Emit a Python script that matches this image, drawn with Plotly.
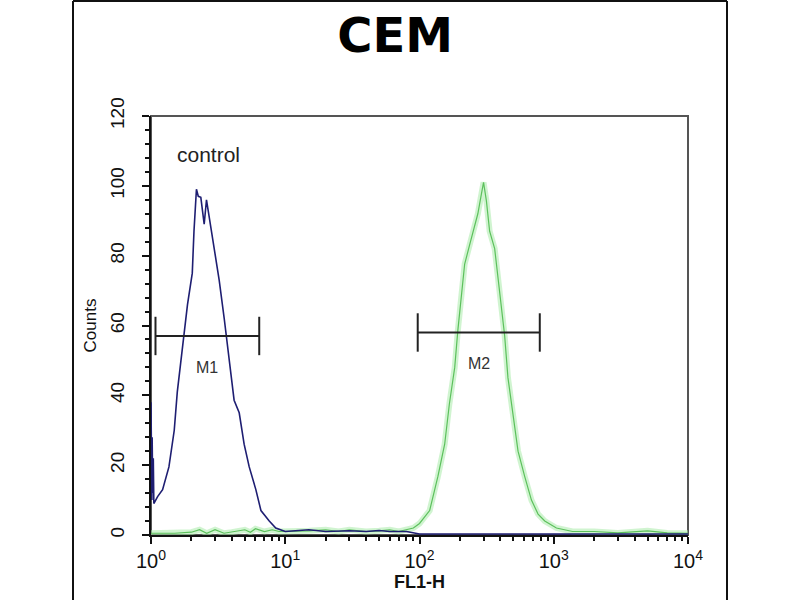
import math
import plotly.graph_objects as go

# control histogram (blue), FL1-H channel vs counts
control_x = [1.0, 1.005, 1.01, 1.015, 1.02, 1.03, 1.04, 1.05, 1.12, 1.22, 1.36, 1.49, 1.57, 1.67, 1.76, 1.87,
             2.03, 2.09, 2.18, 2.25, 2.35, 2.49, 2.59, 2.74, 2.95, 3.22, 3.51, 3.82, 4.16,
             4.54, 4.94, 5.39, 6.04, 6.59, 7.6, 8.5, 10, 15, 20, 30, 40, 50, 60, 80, 100,
             300, 1000, 10000]
control_y = [38, 15, 33, 10, 28, 12, 22, 9, 11, 13, 19.5, 30, 41, 50, 58.6, 66,
             75, 87, 99, 97, 96.7, 89, 96, 90, 81, 73, 62, 51, 38.6,
             35, 26, 19.5, 13, 7, 4, 2, 1, 1.5, 1, 1.2, 1, 1.3, 1, 1, 0.3,
             0.3, 0.3, 0.3]

# stained sample histogram (green)
sample_x = [1, 1.5, 2, 2.3, 2.6, 3, 3.5, 4, 5, 5.5, 6, 7, 8, 9, 10, 15, 20, 25, 30, 40,
            50, 60, 70, 80, 90, 100, 119, 137, 154, 167, 183, 193, 205, 217, 236, 257,
            272, 289, 300, 315, 333, 363, 384, 414, 431, 456, 497, 542, 608, 682, 764,
            857, 1047, 1380, 2000, 3000, 5000, 7000, 10000]
sample_y = [0.5, 0.5, 0.8, 1.5, 0.5, 1.5, 0.5, 0.8, 1.5, 0.8, 1.8, 1, 1.5, 1, 1, 1.2, 1.5, 1, 1.5, 1,
            1.2, 1.5, 1, 1.5, 2, 3.3, 7, 16.7, 26, 37.6, 48, 58.6, 68, 77.6, 83, 88,
            92, 97.6, 101, 95.7, 87, 82, 74, 62, 57, 45, 34, 24, 16.7, 10, 6,
            4, 2, 1, 1, 0.6, 1.2, 0.6, 0.5]

# gates
gate_names = ["M1", "M2"]
gate_lo = [1.08, 97]
gate_hi = [6.4, 787]
gate_level = [57, 58]

y_ticks = [0, 20, 40, 60, 80, 100, 120]
x_ticks = [1, 10, 100, 1000, 10000]
x_ticktext = ["10<sup>0</sup>", "10<sup>1</sup>", "10<sup>2</sup>", "10<sup>3</sup>", "10<sup>4</sup>"]
x_minor = [m * 10 ** d for d in range(4) for m in range(2, 10)]

fig = go.Figure()

fig.add_trace(go.Scatter(x=sample_x, y=sample_y, mode="lines",
                         line=dict(color="rgba(170,235,170,0.55)", width=6)))
fig.add_trace(go.Scatter(x=sample_x, y=sample_y, mode="lines",
                         line=dict(color="#5cc05c", width=1.2)))
fig.add_trace(go.Scatter(x=control_x, y=control_y, mode="lines",
                         line=dict(color="#1e1e72", width=1.6)))

# gate bars with end caps
for name, lo, hi, lvl in zip(gate_names, gate_lo, gate_hi, gate_level):
    fig.add_trace(go.Scatter(
        x=[lo, hi, None, lo, lo, None, hi, hi],
        y=[lvl, lvl, None, lvl - 5.5, lvl + 5.5, None, lvl - 5.5, lvl + 5.5],
        mode="lines", line=dict(color="#222222", width=2)))
    fig.add_annotation(x=math.log10(lo * hi) / 2, y=lvl - 9, xref="x", yref="y",
                       text=name, showarrow=False,
                       font=dict(family="Liberation Sans Narrow, Liberation Sans", size=16, color="#333"))

fig.add_annotation(x=math.log10(2.7), y=109, text="control", showarrow=False,
                   font=dict(family="Liberation Sans", size=21, color="#222"))

fig.update_xaxes(type="log", range=[0, 4], tickvals=x_ticks, ticktext=x_ticktext,
                 ticks="outside", ticklen=7, tickwidth=2, tickcolor="#111",
                 minor=dict(tickvals=x_minor, ticks="outside", ticklen=4, tickwidth=1.5, tickcolor="#111"),
                 showline=True, linecolor="#111", linewidth=2, showgrid=False, zeroline=False,
                 tickfont=dict(family="Liberation Sans", size=20, color="#111"),
                 title=dict(text="<b>FL1-H</b>", standoff=2,
                            font=dict(family="Liberation Sans Narrow, Liberation Sans", size=18, color="#111")))
fig.update_yaxes(range=[0, 120], tickvals=y_ticks, tickangle=-90,
                 ticks="outside", ticklen=7, tickwidth=2, tickcolor="#111",
                 minor=dict(dtick=4, ticks="outside", ticklen=4, tickwidth=1.5, tickcolor="#111"),
                 showline=True, linecolor="#111", linewidth=2, showgrid=False, zeroline=False,
                 ticklabelstandoff=10,
                 tickfont=dict(family="Liberation Sans", size=19, color="#111"),
                 title=dict(text="Counts", standoff=6,
                            font=dict(family="Liberation Sans", size=17, color="#111")))

# gray plot box and outer frame
fig.add_shape(type="rect", xref="paper", yref="paper", x0=0, x1=1, y0=0, y1=1,
              line=dict(color="#555", width=2), layer="below")
frame_l, frame_r = (73 - 151) / 537, (727 - 151) / 537
frame_t, frame_b = (535 - 1) / 419, (535 - 600) / 419
fig.add_shape(type="line", xref="paper", yref="paper", x0=frame_l, x1=frame_l, y0=frame_b, y1=frame_t,
              line=dict(color="#111", width=2))
fig.add_shape(type="line", xref="paper", yref="paper", x0=frame_r, x1=frame_r, y0=frame_b, y1=frame_t,
              line=dict(color="#111", width=2))
fig.add_shape(type="line", xref="paper", yref="paper", x0=frame_l, x1=frame_r, y0=frame_t, y1=frame_t,
              line=dict(color="#111", width=2))

fig.update_layout(
    width=800, height=600,
    margin=dict(l=151, r=112, t=116, b=65),
    paper_bgcolor="white", plot_bgcolor="white",
    showlegend=False,
    title=dict(text="<b>CEM</b>", x=0.494, xanchor="center", y=1 - 35 / 600, yanchor="middle",
               font=dict(family="DejaVu Sans", size=48, color="#000")),
)

fig.write_html("out.html", config={"displayModeBar": False},
               post_script="document.body.style.margin='0';")
